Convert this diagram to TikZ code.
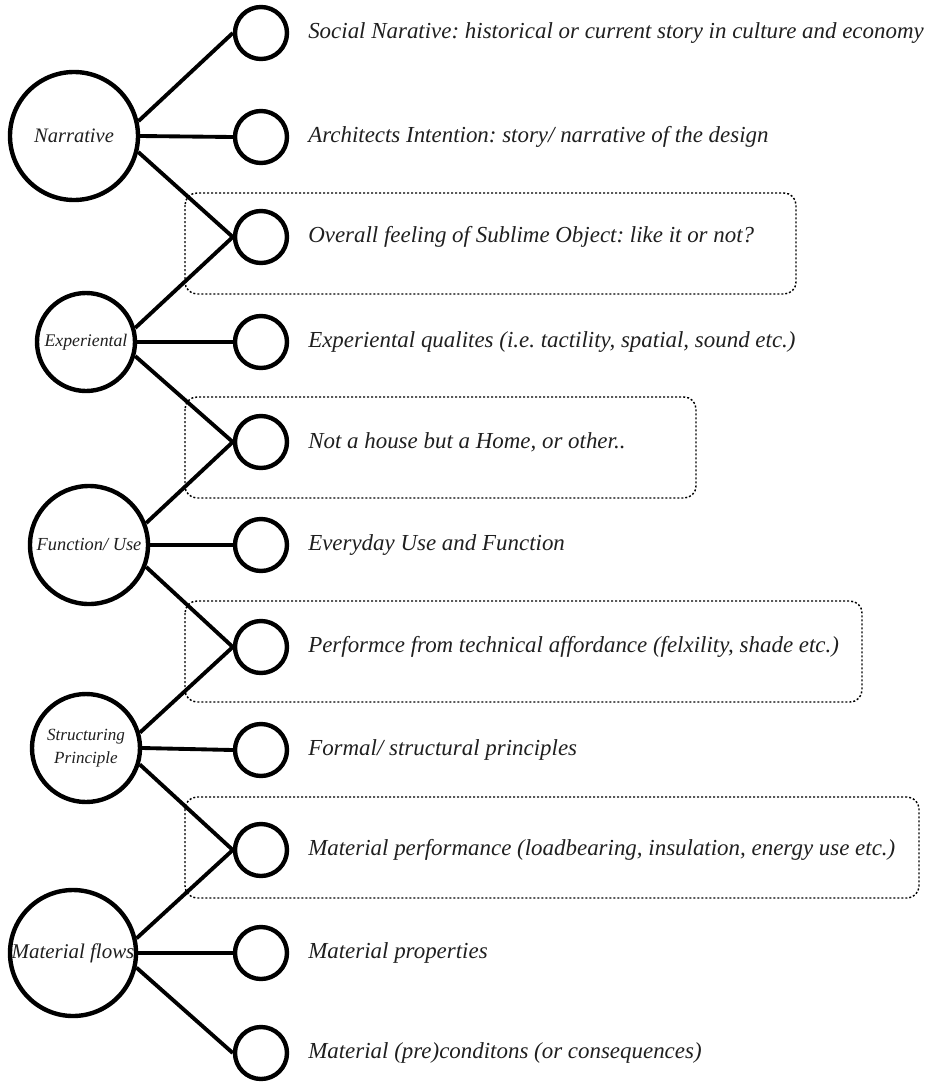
\documentclass[tikz,border=0pt]{standalone}
\usepackage{fontspec}
\setmainfont{Liberation Serif}
\frenchspacing
\begin{document}
\begin{tikzpicture}[x=0.75pt,y=-0.75pt,
  hub/.style={circle,draw,line width=3.3pt,inner sep=0pt,align=center,text=black!88},
  leaf/.style={circle,draw,line width=3.3pt,inner sep=0pt,minimum size=39pt},
  link/.style={line width=2.9pt},
  caption/.style={anchor=west,inner sep=0pt,text=black!88,
    font=\itshape\fontsize{17.2}{20}\selectfont},
  group/.style={draw,line width=1.1pt,dash pattern=on 1.5pt off 1.5pt,rounded corners=9pt}]
\useasboundingbox (0,0) rectangle (938,1082);

% dotted groups around the shared leaves
\draw[group] (185,193) rectangle (796,294);
\draw[group] (185,397) rectangle (696,498);
\draw[group] (185,601) rectangle (862,702);
\draw[group] (185,797) rectangle (919,898);

% main categories
\node[hub,minimum size=96pt,font=\itshape\fontsize{15.4}{18}\selectfont] (N) at (74,136) {Narrative};
\node[hub,minimum size=73.5pt,font=\itshape\fontsize{13.3}{16}\selectfont] (E) at (86,342) {Experiental};
\node[hub,minimum size=88.5pt,font=\itshape\fontsize{13.8}{16}\selectfont] (F) at (89,545) {Function/ Use};
\node[hub,minimum size=81pt,font=\itshape\fontsize{12.8}{17}\selectfont] (S) at (86,748) {Structuring\\Principle};
\node[hub,minimum size=94.5pt,font=\itshape\fontsize{15.7}{18}\selectfont] (M) at (73,953) {Material flows};

% leaves
\node[leaf] (s1) at (261,33) {};
\node[leaf] (s2) at (261,137) {};
\node[leaf] (s3) at (261,237) {};
\node[leaf] (s4) at (261,342) {};
\node[leaf] (s5) at (261,442) {};
\node[leaf] (s6) at (261,545) {};
\node[leaf] (s7) at (261,647) {};
\node[leaf] (s8) at (261,750) {};
\node[leaf] (s9) at (261,850) {};
\node[leaf] (s10) at (261,953) {};
\node[leaf] (s11) at (261,1053) {};

% captions
\node[caption] (t1) at (308,33) {Social Narative: historical or current story in culture and economy};
\node[caption] (t2) at (308,137) {Architects Intention: story/ narrative of the design};
\node[caption] (t3) at (308,237) {Overall feeling of Sublime Object: like it or not?};
\node[caption] (t4) at (308,342) {Experiental qualites (i.e. tactility, spatial, sound etc.)};
\node[caption] (t5) at (308,442) {Not a house but a Home, or other..};
\node[caption] (t6) at (308,545) {Everyday Use and Function};
\node[caption] (t7) at (308,647) {Performce from technical affordance (felxility, shade etc.)};
\node[caption] (t8) at (308,750) {Formal/ structural principles};
\node[caption] (t9) at (308,850) {Material performance (loadbearing, insulation, energy use etc.)};
\node[caption] (t10) at (308,953) {Material properties};
\node[caption] (t11) at (308,1053) {Material (pre)conditons (or consequences)};

% connectors
\draw[link] (N.13) -- (s1.west);
\draw[link] (N.east) -- (s2.west);
\draw[link] (N.-14) -- (s3.west);
\draw[link] (E.16) -- (s3.west);
\draw[link] (E.east) -- (s4.west);
\draw[link] (E.-16) -- (s5.west);
\draw[link] (F.21) -- (s5.west);
\draw[link] (F.east) -- (s6.west);
\draw[link] (F.-21) -- (s7.west);
\draw[link] (S.16) -- (s7.west);
\draw[link] (S.east) -- (s8.west);
\draw[link] (S.-17) -- (s9.west);
\draw[link] (M.13) -- (s9.west);
\draw[link] (M.east) -- (s10.west);
\draw[link] (M.-13) -- (s11.west);
\end{tikzpicture}
\end{document}
